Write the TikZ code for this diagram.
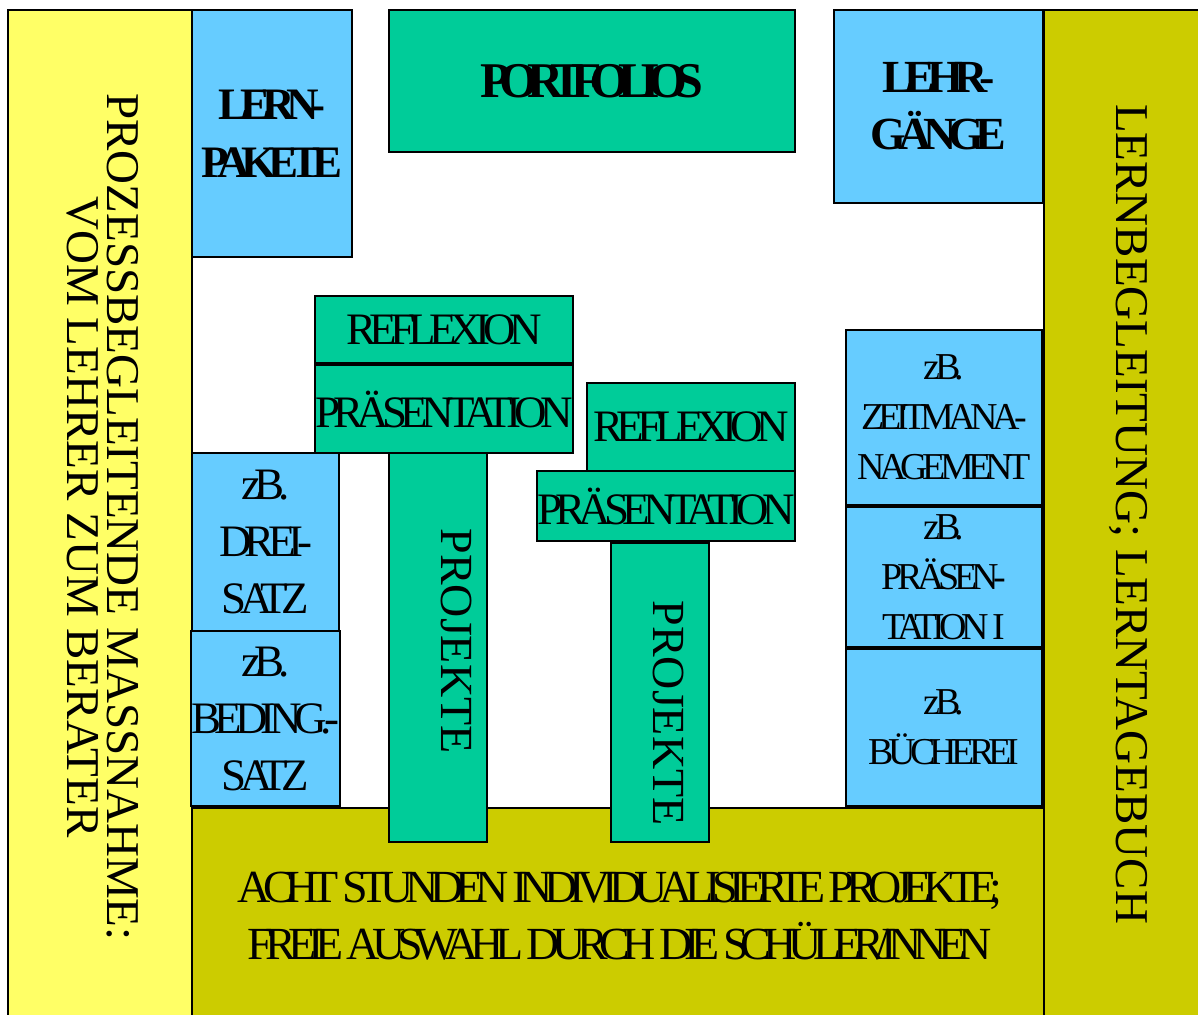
\documentclass[tikz,border=0pt]{standalone}
\usepackage{fontspec}
\setmainfont{Liberation Serif}
\newfontfamily\squeezed[LetterSpace=-15]{Liberation Serif}
\newfontfamily\widesqueezed[LetterSpace=-17.5]{Liberation Serif}
\newfontfamily\boldsqueezed[LetterSpace=-18]{Liberation Serif}
\newfontfamily\titlesqueezed[LetterSpace=-23]{Liberation Serif}
\definecolor{sideyellow}{HTML}{FFFF66}
\definecolor{olive}{HTML}{CCCC00}
\definecolor{lightblue}{HTML}{66CCFF}
\definecolor{teal}{HTML}{00CC99}

\begin{document}
\begin{tikzpicture}[x=1pt,y=-1pt,
    box/.style={draw, line width=1.6pt, inner sep=0pt, align=center},
    bluebox/.style={box, fill=lightblue},
    greenbox/.style={box, fill=teal},
    bigtext/.style={font=\boldsqueezed\bfseries\fontsize{46}{57}\selectfont},
    boxtext/.style={font=\squeezed\fontsize{45}{57}\selectfont},
    smalltext/.style={font=\squeezed\fontsize{38}{50}\selectfont},
    sidetext/.style={font=\fontsize{47}{40}\selectfont, rotate=-90, align=center}]
    \useasboundingbox (0,0) rectangle (1198,1014);
    % frame: side columns and bottom row
    \node[box, fill=sideyellow, minimum width=184pt, minimum height=1010pt] (prozess) at (100,515) {};
    \node[box, fill=olive, minimum width=156pt, minimum height=1010pt] (lernbeg) at (1122,515) {};
    \node[box, fill=olive, minimum width=852pt, minimum height=212pt] (acht) at (618,914) {};
    \node[align=center, font=\widesqueezed\fontsize{46}{57}\selectfont] (achttext) at (620,916)
        {ACHT STUNDEN INDIVIDUALISIERTE PROJEKTE;\\FREIE AUSWAHL DURCH DIE SCHÜLER/INNEN};
    \node[sidetext] (prozesstext) at (103,517) {PROZESSBEGLEITENDE MASSNAHME:\\VOM LEHRER ZUM BERATER};
    \node[sidetext] (lernbegtext) at (1128,514) {LERNBEGLEITUNG; LERNTAGEBUCH};
    % top row
    \node[bluebox, minimum width=160pt, minimum height=247pt, font=\boldsqueezed\bfseries\fontsize{45}{58}\selectfont] (lernpakete) at (272,133.5) {LERN-\\PAKETE};
    \node[greenbox, minimum width=406pt, minimum height=142pt, font=\titlesqueezed\bfseries\fontsize{50}{57}\selectfont] (portfolios) at (592,81) {PORTFOLIOS};
    \node[bluebox, minimum width=209pt, minimum height=193pt, bigtext] (lehrgaenge) at (938.5,106.5) {LEHR-\\GÄNGE};
    % first project column
    \node[greenbox, minimum width=258pt, minimum height=67pt, boxtext] (reflexA) at (444,329.5) {REFLEXION};
    \node[greenbox, minimum width=258pt, minimum height=88pt, boxtext] (praesA) at (444,409) {PRÄSENTATION};
    \node[greenbox, minimum width=98pt, minimum height=389pt] (projA) at (438,647.5) {};
    \node[rotate=-90, font=\fontsize{46}{57}\selectfont] (projAtext) at (456,641) {PROJEKTE};
    % second project column
    \node[greenbox, minimum width=208pt, minimum height=88pt, boxtext] (reflexB) at (691,427) {REFLEXION};
    \node[greenbox, minimum width=258pt, minimum height=70pt, boxtext] (praesB) at (666,506) {PRÄSENTATION};
    \node[greenbox, minimum width=98pt, minimum height=299pt] (projB) at (660,692.5) {};
    \node[rotate=-90, font=\fontsize{46}{57}\selectfont] (projBtext) at (668,713) {PROJEKTE};
    % examples left
    \node[bluebox, minimum width=147pt, minimum height=178pt, boxtext] (dreisatz) at (265.5,542) {zB.\\DREI-\\SATZ};
    \node[bluebox, minimum width=147pt, minimum height=175pt, boxtext] (bedingsatz) at (265.5,718.5) {zB.\\BEDING.-\\SATZ};
    % examples right
    \node[bluebox, minimum width=196pt, minimum height=175pt, smalltext] (zeitman) at (944,417.5) {zB.\\ZEITMANA-\\NAGEMENT};
    \node[bluebox, minimum width=196pt, minimum height=140pt, smalltext] (praesI) at (944,577) {zB.\\PRÄSEN-\\TATION I};
    \node[bluebox, minimum width=196pt, minimum height=157pt, smalltext] (buecherei) at (944,727.5) {zB.\\BÜCHEREI};
\end{tikzpicture}
\end{document}
